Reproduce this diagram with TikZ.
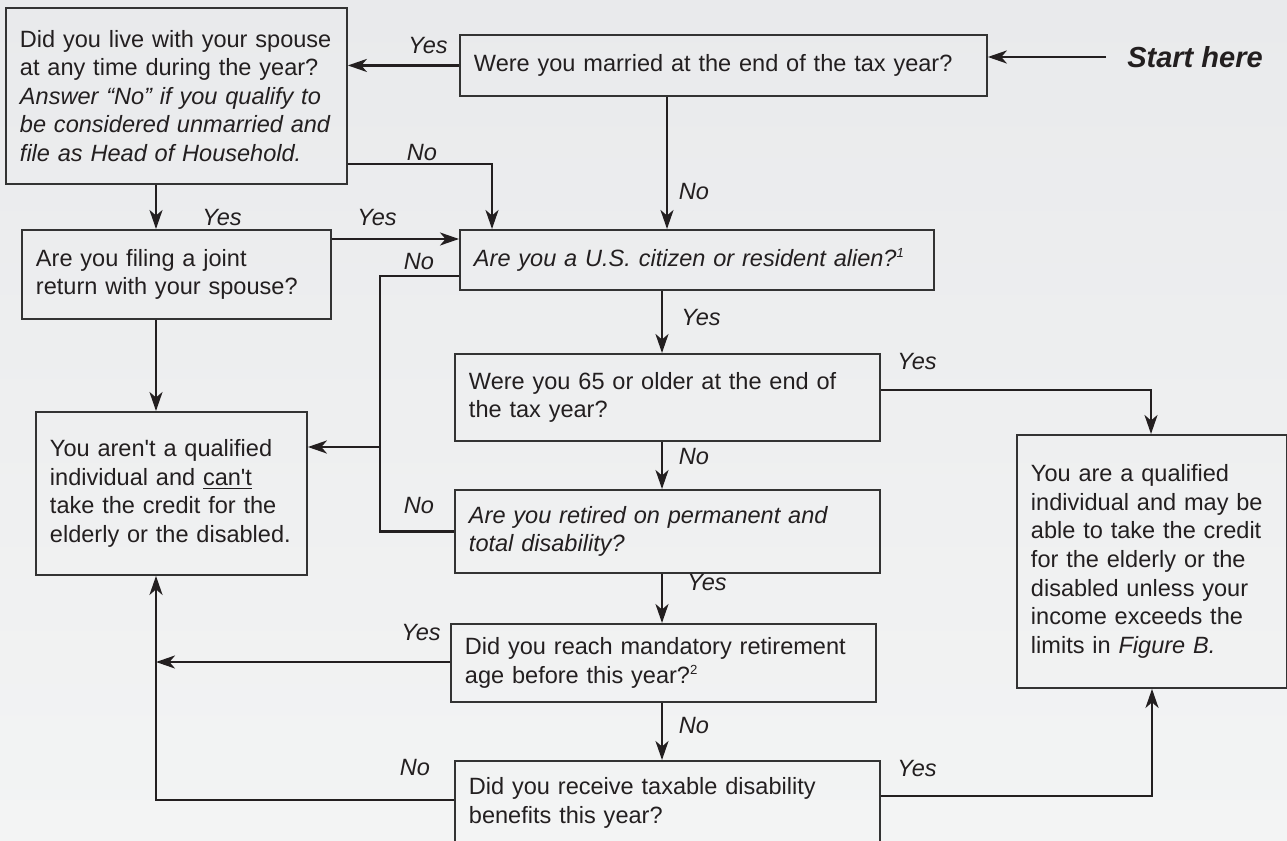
\documentclass[tikz,border=0pt]{standalone}
\usepackage{fontspec}
\setmainfont{Liberation Sans}
\usetikzlibrary{arrows.meta}
\definecolor{ink}{HTML}{231F20}
\definecolor{boxline}{HTML}{333333}
\definecolor{bgtop}{HTML}{E9EAEC}
\definecolor{bgbot}{HTML}{F3F4F4}
\newcommand{\fnmark}[1]{\textsuperscript{\fontsize{7.5}{8}\selectfont #1}}

\begin{document}
\begin{tikzpicture}[x=0.02cm, y=0.02cm,
  box/.style={draw=boxline, line width=1.1pt, anchor=north west, inner xsep=0.28cm, inner ysep=0pt,
    align=left, text=ink, font=\fontsize{13.4}{16.3}\selectfont},
  lbl/.style={text=ink, inner sep=0pt, font=\fontsize{13.4}{16.3}\selectfont\itshape},
  wire/.style={draw=ink, line width=1.4pt},
  arr/.style={wire, -{Stealth[length=0.38cm, width=0.26cm, inset=0.11cm]}}]
\useasboundingbox (0,0) rectangle (1287,-841);
\shade [top color=bgtop, bottom color=bgbot] (0,0) rectangle (1287,-841);
% question and answer boxes
\node [box, text width=6.26cm, minimum height=3.52cm] (live) at (5,-7)
  {Did you live with your spouse\\at any time during the year?\\
   \textit{Answer ``No'' if you qualify to}\\\textit{be considered unmarried and}\\
   \textit{file as Head of Household.}};
\node [box, text width=9.98cm, minimum height=1.22cm] (married) at (459,-34)
  {Were you married at the end of the tax year?};
\node [box, text width=5.62cm, minimum height=1.78cm] (joint) at (21,-229)
  {Are you filing a joint\\return with your spouse?};
\node [box, text width=8.92cm, minimum height=1.2cm] (citizen) at (459,-229)
  {\textit{Are you a U.S. citizen or resident alien?\fnmark{1}}};
\node [box, text width=7.94cm, minimum height=1.74cm] (age65) at (454,-353)
  {Were you 65 or older at the end of\\the tax year?};
\node [box, text width=4.86cm, minimum height=3.26cm] (notq) at (35,-411)
  {You aren\textquotesingle t a qualified\\individual and \underline{can\textquotesingle t}\\
   take the credit for the\\elderly or the disabled.};
\node [box, text width=7.94cm, minimum height=1.66cm] (retired) at (454,-489)
  {\textit{Are you retired on permanent and}\\\textit{total disability?}};
\node [box, text width=7.94cm, minimum height=1.56cm] (mandatory) at (450,-623)
  {Did you reach mandatory retirement\\age before this year?\fnmark{2}};
\node [box, text width=7.94cm, minimum height=1.68cm] (benefits) at (454,-760)
  {Did you receive taxable disability\\benefits this year?};
\node [box, text width=4.84cm, minimum height=5.06cm] (qual) at (1016,-434)
  {You are a qualified\\individual and may be\\able to take the credit\\
   for the elderly or the\\disabled unless your\\income exceeds the\\
   limits in \textit{Figure B.}};
\node [lbl, font=\fontsize{16.5}{19}\selectfont\bfseries\itshape] (start) at (1195,-57) {Start here};
% routing points
\coordinate (leftlane) at (156,0);
\coordinate (midlane) at (380,0);
\coordinate (spineA) at (667,0);
\coordinate (spine) at (662,0);
\coordinate (noA) at (492,-164);
\coordinate (yesB) at (0,-239);
\coordinate (noC) at (380,-276);
\coordinate (noD) at (380,-447);
\coordinate (yesE) at (1151,-390);
\coordinate (yesF) at (156,-662);
\coordinate (noG) at (156,-800);
\coordinate (yesH) at (1152,-796);
% connectors
\draw [arr] ([xshift=-0.42cm]start.west) -- (start.west -| married.east);
\draw [arr] (married.west) -- (married.west -| live.east);
\draw [arr] (noA -| live.east) -- (noA) -- (noA |- citizen.north);
\draw [arr] (live.south -| leftlane) -- (joint.north -| leftlane);
\draw [arr] (joint.south -| leftlane) -- (notq.north -| leftlane);
\draw [arr] (joint.east |- yesB) -- (citizen.west |- yesB);
\draw [arr] (married.south -| spineA) -- (citizen.north -| spineA);
\draw [arr] (citizen.south -| spine) -- (age65.north -| spine);
\draw [arr] (age65.south -| spine) -- (retired.north -| spine);
\draw [arr] (retired.south -| spine) -- (mandatory.north -| spine);
\draw [arr] (mandatory.south -| spine) -- (benefits.north -| spine);
\draw [wire] (noC -| citizen.west) -- (noC) -- (noC |- retired.west) -- (retired.west);
\draw [arr] (noD) -- (noD -| notq.east);
\draw [arr] (yesE -| age65.east) -- (yesE) -- (yesE |- qual.north);
\draw [arr] (yesF -| mandatory.west) -- (yesF);
\draw [arr] (noG -| benefits.west) -- (noG) -- (noG |- notq.south);
\draw [arr] (yesH -| benefits.east) -- (yesH) -- (yesH |- qual.south);
% answers
\node [lbl] (yes1) at (428,-46) {Yes};
\node [lbl] (no1) at (422,-153) {No};
\node [lbl] (yes2) at (222,-218) {Yes};
\node [lbl] (yes3) at (377,-218) {Yes};
\node [lbl] (no2) at (694,-192) {No};
\node [lbl] (no3) at (419,-262) {No};
\node [lbl] (yes4) at (701,-318) {Yes};
\node [lbl] (yes5) at (917,-362) {Yes};
\node [lbl] (no4) at (694,-457) {No};
\node [lbl] (no5) at (419,-506) {No};
\node [lbl] (yes6) at (707,-583) {Yes};
\node [lbl] (yes7) at (421,-633) {Yes};
\node [lbl] (no6) at (694,-726) {No};
\node [lbl] (no7) at (415,-768) {No};
\node [lbl] (yes8) at (917,-769) {Yes};
\end{tikzpicture}
\end{document}
